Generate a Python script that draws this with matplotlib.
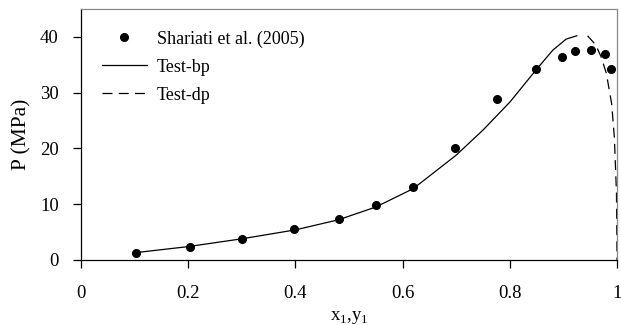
import numpy as np
import matplotlib.pyplot as plt

plt.rcParams['font.family'] = ['Liberation Serif', 'DejaVu Serif']
plt.rcParams['mathtext.fontset'] = 'custom'
plt.rcParams['mathtext.rm'] = 'Liberation Serif'

# experimental points (Shariati et al. 2005)
x_exp = [0.102, 0.203, 0.300, 0.398, 0.482, 0.550, 0.619, 0.697, 0.776,
         0.848, 0.897, 0.921, 0.952, 0.977, 0.988]
p_exp = [1.3, 2.4, 3.8, 5.5, 7.4, 9.9, 13.0, 20.1, 28.8,
         34.3, 36.4, 37.4, 37.7, 37.0, 34.3]

# bubble point curve
x_bp = [0.10, 0.20, 0.30, 0.40, 0.48, 0.55, 0.62, 0.70, 0.75, 0.80,
        0.85, 0.88, 0.905, 0.925]
p_bp = [1.3, 2.4, 3.8, 5.4, 7.2, 9.5, 12.8, 18.8, 23.3, 28.3,
        34.2, 37.6, 39.6, 40.2]

# dew point curve
x_dp = [0.945, 0.96, 0.97, 0.98, 0.99, 0.995, 0.999, 1.0]
p_dp = [40.2, 38.6, 36.5, 33.5, 28.0, 22.0, 12.0, 0.0]

fig = plt.figure(figsize=(6.21, 3.25), dpi=100)
ax = fig.add_axes([0.1304, 0.2, 0.8632, 0.7723])

ax.plot(x_exp, p_exp, 'o', color='black', markersize=5.5, label='Shariati et al. (2005)')
ax.plot(x_bp, p_bp, '-', color='black', linewidth=0.9, label='Test-bp')
ax.plot(x_dp, p_dp, '--', color='black', linewidth=0.9, dashes=(8, 5), label='Test-dp')

ax.set_xlim(0, 1)
ax.set_ylim(0, 45)
ax.set_xticks([0, 0.2, 0.4, 0.6, 0.8, 1])
ax.set_xticklabels(['0', '0.2', '0.4', '0.6', '0.8', '1'])
ax.set_yticks([0, 10, 20, 30, 40])
ax.tick_params(labelsize=13.5, direction='out', length=6, width=0.9, color='black')
ax.tick_params(axis='x', pad=12)
ax.tick_params(axis='y', pad=10)

for s in ['left', 'bottom']:
    ax.spines[s].set_color('black')
    ax.spines[s].set_linewidth(0.9)
for s in ['top', 'right']:
    ax.spines[s].set_color('#888888')
    ax.spines[s].set_linewidth(0.9)

ax.set_xlabel(r'x$_\mathregular{1}$,y$_\mathregular{1}$', fontsize=13.5, labelpad=5)
ax.set_ylabel('P (MPa)', fontsize=15.5, labelpad=6)

ax.legend(loc='upper left', frameon=False, fontsize=13, handlelength=2.5,
          handletextpad=0.55, labelspacing=0.6, borderaxespad=0.0,
          bbox_to_anchor=(0.025, 0.943))

fig.savefig('out.png', dpi=100)
